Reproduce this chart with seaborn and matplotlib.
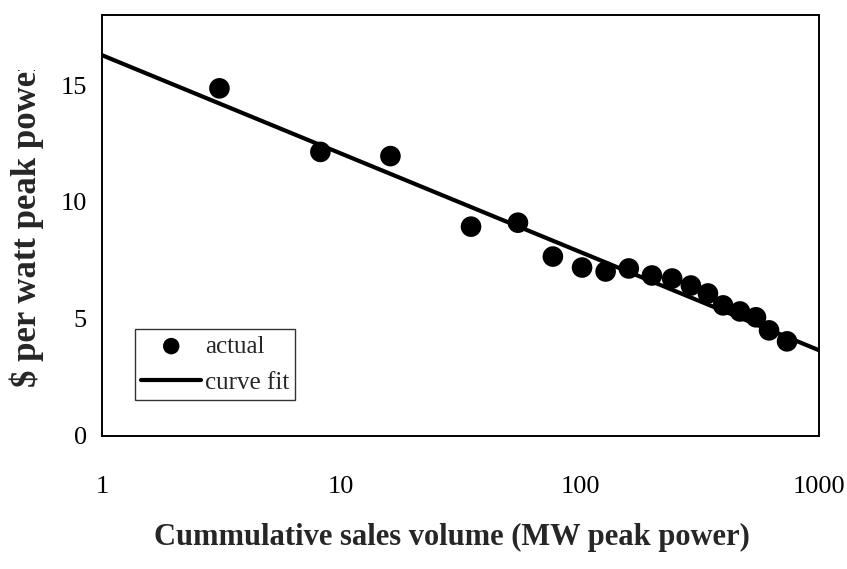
import matplotlib
matplotlib.use("Agg")
import matplotlib.pyplot as plt
from matplotlib.transforms import Bbox
import seaborn as sns

# data
volume = [3.1, 8.2, 16.1, 35, 55, 77, 102, 128, 160, 200, 243, 291, 343, 397, 467, 545, 618, 735]
price = [14.86, 12.14, 11.96, 8.94, 9.11, 7.66, 7.19, 7.02, 7.15, 6.85, 6.72, 6.42, 6.08, 5.57, 5.31, 5.06, 4.50, 4.03]

# end points of the fitted curve (straight on the semilog axes)
fit_volume = [1, 1000]
fit_price = [16.28, 3.65]

x_ticks = [1, 10, 100, 1000]
x_tick_labels = ["1", "10", "100", "1000"]
y_ticks = [0, 5, 10, 15]

sns.set_style("white")
plt.rcParams["font.family"] = ["Liberation Serif", "DejaVu Serif"]

W, H = 847, 569
fig = plt.figure(figsize=(W / 100, H / 100), dpi=100)
ax = fig.add_axes([102 / W, 1 - 435.5 / H, 717 / W, 420.5 / H])

sns.lineplot(x=fit_volume, y=fit_price, ax=ax, color="black", linewidth=3,
             label="curve fit", zorder=2)
sns.scatterplot(x=volume, y=price, ax=ax, color="black", s=220, edgecolor="none",
                label="actual", zorder=3)

ax.set_xscale("log")
ax.set_xlim(1, 1000)
ax.set_ylim(0, 18)
ax.set_xticks(x_ticks)
ax.set_xticklabels(x_tick_labels)
ax.minorticks_off()
ax.set_yticks(y_ticks)

ax.tick_params(axis="both", which="major", direction="out", length=7, width=1,
               color="#555555", labelsize=19, labelcolor="black")
ax.tick_params(axis="x", pad=22)
ax.tick_params(axis="y", pad=4)
for s in ax.spines.values():
    s.set_color("black")
    s.set_linewidth(1.4)

# legend: marker first, then line
handles, labels = ax.get_legend_handles_labels()
order = [labels.index("actual"), labels.index("curve fit")]
leg = ax.legend([handles[i] for i in order], [labels[i] for i in order],
                loc="lower left", bbox_to_anchor=(0.046, 0.084), borderaxespad=0,
                fontsize=18, frameon=True, fancybox=False, edgecolor="black",
                handlelength=2.4, handletextpad=0.15, borderpad=0.25,
                labelspacing=0.55, markerscale=0.8)
leg.get_frame().set_linewidth(1.0)
leg.get_frame().set_facecolor("white")

# axis titles (the y title is cut off at the top, as in the original)
fig.text(452 / W, 1 - 537 / H, "Cummulative sales volume (MW peak power)",
         ha="center", va="center", fontsize=22, fontweight="bold")
ylab = fig.text(27 / W, 1 - 387 / H, r"\$ per watt peak power", rotation=90,
                ha="center", va="bottom", fontsize=25, fontweight="bold",
                clip_on=True)
ylab.set_clip_box(Bbox.from_extents(0, 0, 100, H - 70))

fig.savefig("out.png", dpi=100)
